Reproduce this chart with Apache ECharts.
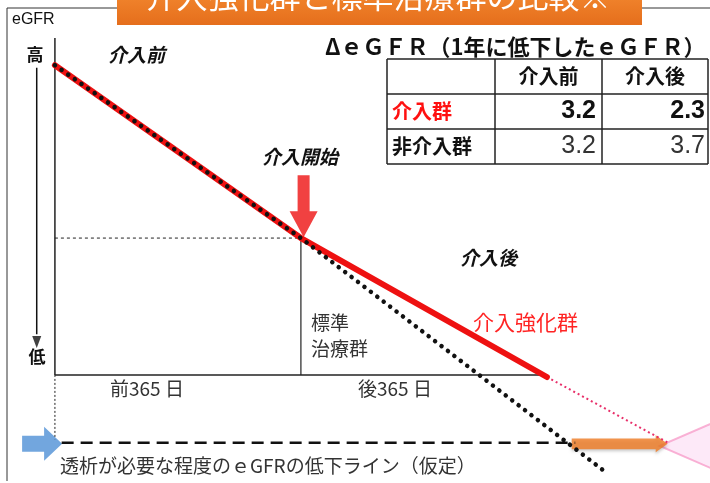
<!DOCTYPE html>
<html>
<head>
<meta charset="utf-8">
<script src="https://cdn.jsdelivr.net/npm/echarts@6/dist/echarts.min.js"></script>
<style>
  html, body { margin: 0; padding: 0; background: #fff; }
  #chart { width: 710px; height: 483px; }
</style>
</head>
<body>
<div id="chart"></div>
<script>
(function (window, document) {
    'use strict';
    var myChart = echarts.init(document.getElementById('chart'));
    var JP = '"Noto Sans CJK JP", sans-serif';

    // schematic eGFR course: x = days from start of intervention, y = eGFR (arbitrary units)
    var intensiveLine = [[-365, 20.0], [0, 16.69], [365, 14.03]];
    var intensiveExtension = [[365, 14.03], [545, 12.77]];
    var standardLine = [[-365, 20.0], [0, 16.69], [454, 12.19]];
    var dialysisLine = [[-355, 12.77], [407, 12.77]];
    var xAxisLine = [[-365, 14.07], [365, 14.07]];
    var yAxisLine = [[-365, 20.52], [-365, 14.07]];
    var startLevel = [[-365, 16.69], [0, 16.69]];
    var startDivider = [[0, 16.69], [0, 14.07]];
    var baseDrop = [[-365, 14.07], [-365, 12.84]];
    var directionArrow = [[-392, 19.95], [-392, 14.85]];

    // table: ΔeGFR per year
    var tableCols = ['', '介入前', '介入後'];
    var tableRows = ['介入群', '非介入群'];
    var beforeValues = [3.2, 3.2];
    var afterValues = [2.3, 3.7];

    function lineSeries(data, style) {
        return {
            type: 'line',
            data: data,
            symbol: 'none',
            silent: true,
            clip: false,
            animation: false,
            lineStyle: style
        };
    }

    var series = [
        lineSeries(xAxisLine, { color: '#222', width: 1.5 }),
        lineSeries(yAxisLine, { color: '#222', width: 1.5 }),
        lineSeries(startLevel, { color: '#222', width: 1, type: [3, 3] }),
        lineSeries(startDivider, { color: '#222', width: 1.2 }),
        lineSeries(baseDrop, { color: '#222', width: 1, type: [2, 2] }),
        lineSeries(directionArrow, { color: '#111', width: 1.5 }),
        lineSeries(dialysisLine, { color: '#111', width: 2.5, type: [12, 7] }),
        lineSeries(intensiveExtension, { color: '#e8306a', width: 2, type: [2, 3] }),
        lineSeries(intensiveLine, { color: '#ee1111', width: 6, cap: 'round' }),
        lineSeries(standardLine, { color: '#111', width: 4.5, type: [0.1, 8], cap: 'round' }),
        {
            type: 'scatter',
            silent: true,
            clip: false,
            animation: false,
            data: [
                // arrow head of eGFR direction
                { value: [-392, 14.7], symbol: 'triangle', symbolSize: [9, 12], symbolRotate: 180,
                  itemStyle: { color: '#111' } },
                // pink target triangle
                { value: [577, 12.71], symbol: 'path://M0,26 L60,0 L60,52 Z', symbolSize: [60, 52],
                  itemStyle: { color: '#fde4f6', borderColor: '#f79fcb', borderWidth: 2 } },
                // blue arrow (dialysis line marker)
                { value: [-384, 12.75], symbol: 'path://M0,9 L22,9 L22,0 L40,17 L22,34 L22,25 L0,25 Z', symbolSize: [40, 34],
                  itemStyle: { color: '#4f90d6' } },
                // orange arrow
                { value: [473, 12.75], symbol: 'path://M0,3 L84,3 L84,0 L96,8 L84,16 L84,13 L0,13 Z', symbolSize: [96, 17],
                  itemStyle: { color: '#f07b22', shadowColor: 'rgba(0,0,0,0.25)', shadowBlur: 3, shadowOffsetY: 2 } },
                // red intervention arrow
                { value: [4, 17.3], symbol: 'path://M8,0 L20,0 L20,36 L28,36 L14,62 L0,36 L8,36 Z', symbolSize: [28, 62],
                  itemStyle: { color: '#ee1111' } }
            ]
        }
    ];

    var graphics = [
        // frame
        { type: 'line', shape: { x1: 7, y1: 8, x2: 7, y2: 481 }, style: { stroke: '#333', lineWidth: 1 } },
        { type: 'line', shape: { x1: 7, y1: 8, x2: 118, y2: 8 }, style: { stroke: '#333', lineWidth: 1 } },
        { type: 'line', shape: { x1: 641, y1: 8, x2: 710, y2: 8 }, style: { stroke: '#333', lineWidth: 1 } },
        // banner
        {
            type: 'rect', shape: { x: 117, y: -10, width: 525, height: 35 },
            style: {
                fill: new echarts.graphic.LinearGradient(0, 0, 0, 1, [
                    { offset: 0, color: '#f3882f' }, { offset: 1, color: '#e56e1c' }
                ])
            }
        },
        { type: 'text', x: 378, y: 12, style: { text: '介入強化群と標準治療群の比較※', fill: '#fff', font: '31px ' + JP, align: 'center', verticalAlign: 'bottom' } },
        // axis captions
        { type: 'text', x: 12, y: 20, style: { text: 'eGFR', fill: '#111', font: '16px "Liberation Sans", Arial', verticalAlign: 'middle' } },
        { type: 'text', x: 35, y: 55, style: { text: '高', fill: '#111', font: 'bold 17px ' + JP, align: 'center', verticalAlign: 'middle' } },
        { type: 'text', x: 37, y: 357, style: { text: '低', fill: '#111', font: 'bold 17px ' + JP, align: 'center', verticalAlign: 'middle' } },
        // phase labels
        { type: 'text', x: 108, y: 55, style: { text: '介入前', fill: '#111', font: 'italic bold 19px ' + JP, verticalAlign: 'middle' } },
        { type: 'text', x: 262, y: 157, style: { text: '介入開始', fill: '#111', font: 'italic bold 19px ' + JP, verticalAlign: 'middle' } },
        { type: 'text', x: 460, y: 258, style: { text: '介入後', fill: '#111', font: 'italic bold 19px ' + JP, verticalAlign: 'middle' } },
        { type: 'text', x: 311, y: 323, style: { text: '標準', fill: '#333', font: '19px ' + JP, verticalAlign: 'middle' } },
        { type: 'text', x: 311, y: 349, style: { text: '治療群', fill: '#333', font: '19px ' + JP, verticalAlign: 'middle' } },
        { type: 'text', x: 473, y: 322, style: { text: '介入強化群', fill: '#ff2424', font: '21px ' + JP, verticalAlign: 'middle', backgroundColor: '#fff' } },
        { type: 'text', x: 110, y: 389, style: { text: '前365 日', fill: '#333', font: '19px ' + JP, verticalAlign: 'middle' } },
        { type: 'text', x: 358, y: 389, style: { text: '後365 日', fill: '#333', font: '19px ' + JP, verticalAlign: 'middle' } },
        { type: 'text', x: 60, y: 466, style: { text: '透析が必要な程度のｅGFRの低下ライン（仮定）', fill: '#333', font: '19px ' + JP, verticalAlign: 'middle' } },
        // table title
        { type: 'text', x: 325, y: 47, style: { text: 'ΔｅＧＦＲ（1年に低下したｅＧＦＲ）', fill: '#111', font: 'bold 22px ' + JP, verticalAlign: 'middle' } }
    ];

    // table grid
    var colX = [387, 495, 602, 708];
    var rowY = [59, 94, 129, 164];
    colX.forEach(function (x) {
        graphics.push({ type: 'line', shape: { x1: x, y1: rowY[0], x2: x, y2: rowY[3] }, style: { stroke: '#222', lineWidth: 1.5 } });
    });
    rowY.forEach(function (y) {
        graphics.push({ type: 'line', shape: { x1: colX[0], y1: y, x2: colX[3], y2: y }, style: { stroke: '#222', lineWidth: 1.5 } });
    });
    tableCols.forEach(function (c, i) {
        if (!c) return;
        graphics.push({ type: 'text', x: (colX[i] + colX[i + 1]) / 2, y: (rowY[0] + rowY[1]) / 2,
            style: { text: c, fill: '#111', font: 'bold 20px ' + JP, align: 'center', verticalAlign: 'middle' } });
    });
    tableRows.forEach(function (r, j) {
        var cy = (rowY[j + 1] + rowY[j + 2]) / 2;
        var first = j === 0;
        graphics.push({ type: 'text', x: colX[0] + 5, y: cy,
            style: { text: r, fill: first ? '#ff1010' : '#111', font: 'bold 20px ' + JP, verticalAlign: 'middle' } });
        var numFont = (first ? 'bold ' : '') + '25px "Liberation Sans", Arial';
        graphics.push({ type: 'text', x: colX[2] - 6, y: cy,
            style: { text: beforeValues[j].toFixed(1), fill: first ? '#111' : '#333', font: numFont, align: 'right', verticalAlign: 'middle' } });
        graphics.push({ type: 'text', x: colX[3] - 3, y: cy,
            style: { text: afterValues[j].toFixed(1), fill: first ? '#111' : '#333', font: numFont, align: 'right', verticalAlign: 'middle' } });
    });

    var option = {
        animation: false,
        grid: { left: 1, top: 13, width: 709, height: 470 },
        xAxis: { type: 'value', min: -445, max: 607, show: false },
        yAxis: { type: 'value', min: 12, max: 21, show: false },
        series: series,
        graphic: graphics
    };
    myChart.setOption(option);
})(window, document);
</script>
</body>
</html>
